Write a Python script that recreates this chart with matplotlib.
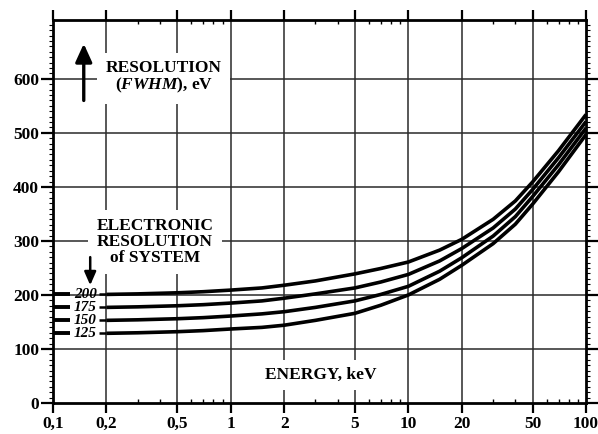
import matplotlib
matplotlib.use("Agg")
import matplotlib.pyplot as plt
from matplotlib.ticker import FixedLocator, NullFormatter

# ---- data ----
energy = [0.2, 0.3, 0.5, 0.7, 1, 1.5, 2, 3, 5, 7, 10, 15, 20, 30, 40, 50, 70, 100]
res_200 = [201, 202, 204, 206, 209, 213, 218, 226, 239, 249, 261, 283, 303, 340, 374, 409, 467, 534]
res_175 = [177, 178, 180, 182, 185, 189, 194, 202, 213, 224, 238, 263, 286, 324, 359, 395, 454, 521]
res_150 = [153, 154, 156, 158, 161, 165, 169, 177, 189, 201, 216, 244, 269, 309, 345, 382, 441, 509]
res_125 = [129, 130, 132, 134, 137, 140, 144, 153, 166, 181, 200, 229, 255, 295, 331, 368, 428, 497]
series = [res_200, res_175, res_150, res_125]
series_labels = ["200", "175", "150", "125"]

x_ticks = [0.1, 0.2, 0.5, 1, 2, 5, 10, 20, 50, 100]
x_tick_labels = ["0,1", "0,2", "0,5", "1", "2", "5", "10", "20", "50", "100"]
y_ticks = [0, 100, 200, 300, 400, 500, 600]

SERIF = ["Liberation Serif", "DejaVu Serif"]
plt.rcParams["font.family"] = SERIF
plt.rcParams["mathtext.fontset"] = "custom"
plt.rcParams["mathtext.it"] = "Liberation Serif:italic:bold"
plt.rcParams["mathtext.rm"] = "Liberation Serif:bold"

fig = plt.figure(figsize=(5.98, 4.34), dpi=100)
ax = fig.add_axes([0.0886, 0.0714, 0.8914, 0.8826])
ax.set_xscale("log")
ax.set_xlim(0.1, 100)
ax.set_ylim(0, 709)

# grid
for xv in x_ticks[1:-1]:
    ax.axvline(xv, color="#2a2a2a", lw=1.1, zorder=1)
for yv in y_ticks[1:]:
    ax.axhline(yv, color="#2a2a2a", lw=1.1, zorder=1)

# curves
for ys, lab in zip(series, series_labels):
    ax.plot(energy, ys, color="black", lw=2.6, solid_capstyle="butt",
            solid_joinstyle="round", zorder=4)
    y0 = ys[0]
    ax.plot([0.1, 0.1247], [y0, y0], color="black", lw=2.8, solid_capstyle="butt", zorder=4)
    ax.plot([0.181, 0.2], [y0, y0], color="black", lw=1.8, solid_capstyle="butt", zorder=4)
    ax.text(0.1525, y0, lab, ha="center", va="center", fontsize=11,
            style="italic", fontweight="bold", color="black", zorder=5)

# annotations
ax.text(0.42, 602, "RESOLUTION\n($\\mathit{FWHM}$), eV", ha="center", va="center",
        fontsize=12.5, fontweight="bold", linespacing=1.0,
        bbox=dict(facecolor="white", edgecolor="none", pad=6), zorder=3)
ax.annotate("", xy=(0.149, 665), xytext=(0.149, 560),
            arrowprops=dict(arrowstyle="-|>,head_width=0.5,head_length=1.1", color="black", lw=2.4,
                            shrinkA=0, shrinkB=0), zorder=5)
ax.text(0.375, 298, "ELECTRONIC\nRESOLUTION\nof SYSTEM", ha="center", va="center",
        fontsize=12.5, fontweight="bold", linespacing=1.0,
        bbox=dict(facecolor="white", edgecolor="none", pad=6), zorder=3)
ax.annotate("", xy=(0.162, 218), xytext=(0.162, 270),
            arrowprops=dict(arrowstyle="-|>,head_width=0.35,head_length=0.8", color="black", lw=1.8,
                            shrinkA=0, shrinkB=0), zorder=5)
ax.text(3.2, 52, "ENERGY, keV", ha="center", va="center", fontsize=12.5, fontweight="bold",
        bbox=dict(facecolor="white", edgecolor="none", pad=5), zorder=3)

# axes styling
for sp in ax.spines.values():
    sp.set_linewidth(2.0)
ax.xaxis.set_major_locator(FixedLocator(x_ticks))
ax.set_xticklabels(x_tick_labels)
ax.xaxis.set_minor_locator(FixedLocator([0.3, 0.4, 0.6, 0.7, 0.8, 0.9, 3, 4, 6, 7, 8, 9,
                                         30, 40, 60, 70, 80, 90]))
ax.xaxis.set_minor_formatter(NullFormatter())
ax.set_yticks(y_ticks)
ax.yaxis.set_minor_locator(FixedLocator(list(range(10, 710, 10))))
ax.tick_params(axis="x", which="major", direction="out", length=7, width=1.6, top=True,
               labelsize=12.5, pad=2)
ax.tick_params(axis="x", which="minor", direction="in", length=3, width=1.0, top=True)
ax.tick_params(axis="y", which="major", direction="out", length=9, width=1.6, right=True,
               labelsize=12.5, pad=1)
ax.tick_params(axis="y", which="minor", direction="out", length=3, width=0.8, right=True)
for lbl in ax.get_xticklabels() + ax.get_yticklabels():
    lbl.set_fontweight("bold")

fig.savefig("out.png", dpi=100, facecolor="white")
